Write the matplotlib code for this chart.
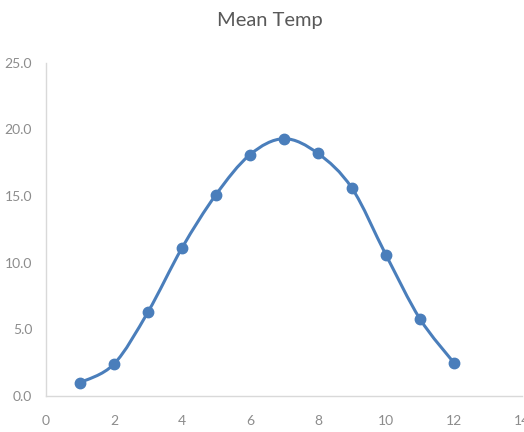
#!/usr/bin/env python
import numpy as np
import matplotlib as mpl
import matplotlib.pyplot as plt
from matplotlib.path import Path
from matplotlib.patches import PathPatch

mpl.use('agg')
plt.rcParams['font.family'] = ['Lato', 'DejaVu Sans']

############################################################
# data
############################################################
month     = [1, 2, 3, 4, 5, 6, 7, 8, 9, 10, 11, 12]
mean_temp = [1.0, 2.4, 6.3, 11.1, 15.1, 18.1, 19.3, 18.2, 15.6, 10.6, 5.8, 2.5]
xticks    = [0, 2, 4, 6, 8, 10, 12, 14]
yticks    = [0, 5, 10, 15, 20, 25]

blue = '#4a7ebb'
grey = '#8c8c8c'

############################################################
fig = plt.figure(figsize=(5.24, 4.32), dpi=100)
ax  = fig.add_axes([0.0878, 0.0833, 0.908, 0.7715])

# excel-style smoothed line: bezier segments through the points
x = np.asarray(month, dtype=float)
y = np.asarray(mean_temp, dtype=float)
verts = [(x[0], y[0])]
codes = [Path.MOVETO]
n = len(x)
for i in range(n - 1):
    i0 = max(i - 1, 0)
    i3 = min(i + 2, n - 1)
    c1 = (x[i] + (x[i+1] - x[i0]) / 6.0, y[i] + (y[i+1] - y[i0]) / 6.0)
    c2 = (x[i+1] - (x[i3] - x[i]) / 6.0, y[i+1] - (y[i3] - y[i]) / 6.0)
    verts += [c1, c2, (x[i+1], y[i+1])]
    codes += [Path.CURVE4] * 3
ax.add_patch(PathPatch(Path(verts, codes), fc='none', ec=blue, lw=2.2,
                       capstyle='round', joinstyle='round'))
ax.plot(month, mean_temp, 'o', color=blue, ms=7.5, zorder=3)

############################################################
ax.set_xlim(0, 14)
ax.set_ylim(0, 25)
ax.set_xticks(xticks)
ax.set_yticks(yticks)
ax.set_yticklabels(['%.1f' % v for v in yticks])

for side in ['top', 'right']:
    ax.spines[side].set_visible(False)
for side in ['left', 'bottom']:
    ax.spines[side].set_color('#d9d9d9')
    ax.spines[side].set_linewidth(1.0)
ax.tick_params(axis='both', length=0, labelsize=10, labelcolor=grey)
ax.tick_params(axis='y', pad=10)
ax.tick_params(axis='x', pad=14)

fig.text(0.515, 0.953, 'Mean Temp', ha='center', va='center',
         fontsize=14.5, color='#595959')

plt.savefig('out.png')
